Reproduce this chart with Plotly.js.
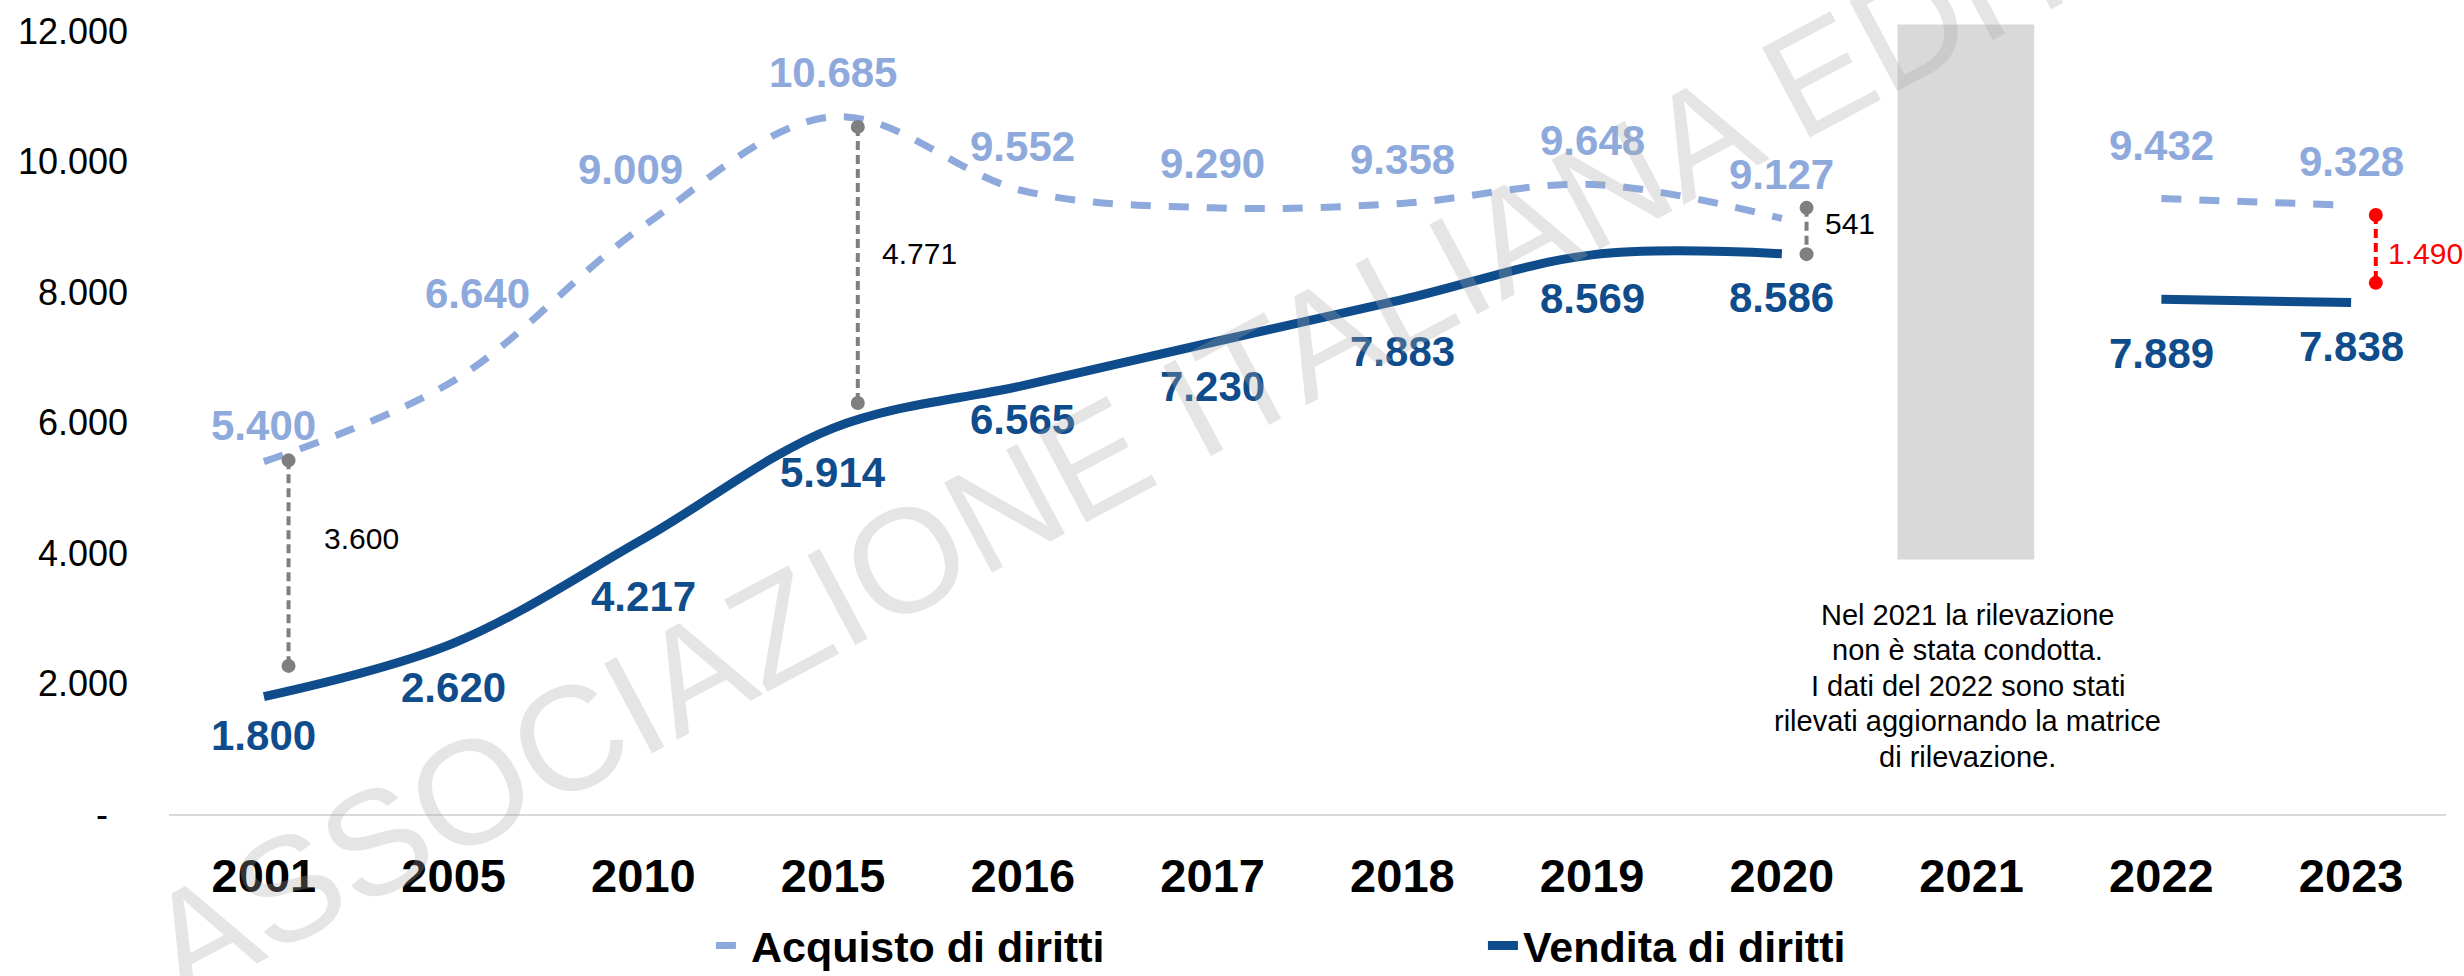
<!DOCTYPE html>
<html><head><meta charset="utf-8">
<script src="https://cdn.plot.ly/plotly-3.0.1.min.js"></script>
<style>html,body{margin:0;padding:0;background:#fff}#chart{width:2464px;height:976px}</style>
</head><body><div id="chart"></div>
<script>
// ---- data ----
const years = ['2001','2005','2010','2015','2016','2017','2018','2019','2020','2021','2022','2023'];
const acquisto = [5400, 6640, 9009, 10685, 9552, 9290, 9358, 9648, 9127, null, 9432, 9328];
const vendita  = [1800, 2620, 4217, 5914, 6565, 7230, 7883, 8569, 8586, null, 7889, 7838];
const gapYears  = ['2001','2015','2020','2023'];
const gapTop    = [5420, 10530, 9290, 9180];   // connector end points
const gapBottom = [2270, 6300, 8580, 8140];
const yTickVals = [0, 2000, 4000, 6000, 8000, 10000, 12000];
const yTickText = ['-\u00a0\u00a0', '2.000', '4.000', '6.000', '8.000', '10.000', '12.000'];
const seriesNames = ['Acquisto di diritti', 'Vendita di diritti'];
const noteLines = ['Nel 2021 la rilevazione', 'non è stata condotta.', 'I dati del 2022 sono stati',
                   'rilevati aggiornando la matrice', 'di rilevazione.'];
const watermarkText = 'ASSOCIAZIONE ITALIANA EDITORI';

// ---- helpers / styles ----
const FONT = 'Liberation Sans, Arial, sans-serif';
const C_ACQ = '#8EA9DB', C_VEN = '#0F4C8C', C_GAP = '#7F7F7F', C_RED = '#FF0000';
const fmt = v => String(v).replace(/\B(?=(\d{3})+(?!\d))/g, '.');
const idx = years.map((_, i) => i);
const GAP_DX = 0.13;

const traces = [
  {x: idx, y: acquisto, name: seriesNames[0], mode: 'lines', connectgaps: false,
   line: {color: C_ACQ, width: 7, dash: '20px,18px', shape: 'spline', smoothing: 1}},
  {x: idx, y: vendita, name: seriesNames[1], mode: 'lines', connectgaps: false,
   line: {color: C_VEN, width: 9, shape: 'spline', smoothing: 1}}
];
gapYears.forEach((yr, k) => {
  const i = years.indexOf(yr);
  const col = k === gapYears.length - 1 ? C_RED : C_GAP;
  traces.push({x: [i + GAP_DX, i + GAP_DX], y: [gapTop[k], gapBottom[k]], mode: 'lines+markers',
    showlegend: false, hoverinfo: 'skip',
    line: {color: col, width: 4, dash: '9px,5px'}, marker: {color: col, size: 14}});
});

const annotations = [];
// label nudges (px) – layout only
const acqNudge = {0: [0, 36], 1: [24, 87], 2: [-13, 57], 10: [0, 53]};
const venNudge = {0: [0, -39], 2: [0, -58], 4: [0, -34], 6: [0, -52], 10: [0, -54]};
idx.forEach(i => {
  if (acquisto[i] != null) {
    const n = acqNudge[i] || [0, 44];
    annotations.push({x: i, y: acquisto[i], xref: 'x', yref: 'y', text: fmt(acquisto[i]), showarrow: false,
      xshift: n[0], yshift: n[1], font: {family: FONT, size: 42, color: C_ACQ, weight: 'bold'}});
  }
  if (vendita[i] != null) {
    const n = venNudge[i] || [0, -44];
    annotations.push({x: i, y: vendita[i], xref: 'x', yref: 'y', text: fmt(vendita[i]), showarrow: false,
      xshift: n[0], yshift: n[1], font: {family: FONT, size: 42, color: C_VEN, weight: 'bold'}});
  }
});
const gapShift = [[33, 25], [22, 11], [16, 7], [10, -5]];
gapYears.forEach((yr, k) => {
  const i = years.indexOf(yr);
  annotations.push({x: i + GAP_DX, y: (gapTop[k] + gapBottom[k]) / 2, xref: 'x', yref: 'y',
    text: fmt(acquisto[i] - vendita[i]), showarrow: false, xanchor: 'left',
    xshift: gapShift[k][0], yshift: gapShift[k][1],
    font: {family: FONT, size: 30, color: k === gapYears.length - 1 ? C_RED : '#000'}});
});
noteLines.forEach((line, k) => {
  annotations.push({x: years.indexOf('2021') - 0.02, y: 1962, xref: 'x', yref: 'y', text: line,
    yshift: (2 - k) * 35.5, showarrow: false, align: 'center',
    font: {family: FONT, size: 29, color: '#000'}});
});
annotations.push({x: 0.466, y: 0.545, xref: 'paper', yref: 'paper', text: watermarkText, showarrow: false,
  textangle: -28, font: {family: FONT, size: 148, color: 'rgba(170,170,170,0.3)'}});

const i21 = years.indexOf('2021');
const layout = {
  width: 2464, height: 976,
  margin: {l: 169, r: 18, t: 31, b: 162, autoexpand: false},
  paper_bgcolor: '#fff', plot_bgcolor: '#fff',
  font: {family: FONT, color: '#000'},
  xaxis: {range: [-0.5, 11.5], tickmode: 'array', tickvals: idx, ticktext: years,
    tickfont: {family: FONT, size: 47, color: '#000', weight: 'bold'},
    showline: true, linecolor: '#D9D9D9', linewidth: 2, showgrid: false, zeroline: false,
    ticks: '', ticklabelstandoff: 20, fixedrange: true},
  yaxis: {range: [0, 12000], tickmode: 'array', tickvals: yTickVals, ticktext: yTickText,
    tickfont: {family: FONT, size: 36, color: '#000'},
    showline: false, showgrid: false, zeroline: false, ticks: '', ticklabelstandoff: 40, fixedrange: true},
  shapes: [{type: 'rect', xref: 'x', yref: 'paper', x0: i21 - 0.39, x1: i21 + 0.33,
    y0: 3900 / 12000, y1: 12100 / 12000,
    fillcolor: '#D9D9D9', line: {width: 0}, layer: 'below'}],
  annotations: annotations,
  showlegend: true,
  legend: {orientation: 'h', x: 0.238, xanchor: 'left', y: -0.168, yanchor: 'middle',
    font: {family: FONT, size: 43, color: '#000', weight: 'bold'},
    entrywidth: 727, entrywidthmode: 'pixels', itemwidth: 30, traceorder: 'normal', bgcolor: 'rgba(0,0,0,0)'}
};

Plotly.newPlot('chart', traces, layout, {displayModeBar: false, staticPlot: true});
</script></body></html>
